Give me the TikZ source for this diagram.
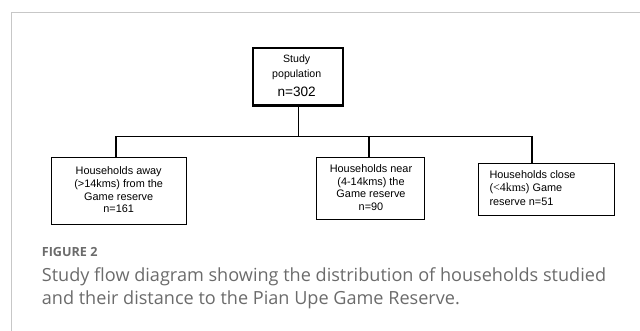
\documentclass[tikz,border=0pt]{standalone}
\usepackage{fontspec}
\setmainfont{Liberation Sans}
\newfontfamily\capfont{Open Sans}
\newfontfamily\serifpart{Liberation Serif}
\begin{document}
\begin{tikzpicture}[x=1pt,y=-1pt,
  box/.style={draw=black, line width=1pt, inner sep=0pt, anchor=north west},
  boxtext/.style={inner sep=0pt, font=\fontsize{10.9}{12.6}\selectfont},
  topbox/.style={draw=black, line width=2.5pt, inner sep=0pt, anchor=north west},
  conn/.style={draw=black, line width=1.6pt},
  frameline/.style={draw=black!22, line width=1pt},
  captext/.style={text=black!58, anchor=base west, inner sep=0pt}]
\useasboundingbox (0,0) rectangle (640,331);
\draw[frameline] (640,12.7) -- (11.7,12.7) -- (11.7,331);
% top box
\node[topbox, minimum width=90pt, minimum height=57.6pt] (top) at (251.7,46.7) {};
\node[inner sep=0pt, font=\fontsize{10.6}{12}\selectfont] (t1) at (296.7,60) {Study};
\node[inner sep=0pt, font=\fontsize{10.6}{12}\selectfont] (t2) at (296.7,74.3) {population};
\node[inner sep=0pt, font=\fontsize{13.6}{15}\selectfont] (t3) at (296.7,91.7) {n=302};
% child boxes
\node[box, minimum width=135pt, minimum height=67.6pt] (b1) at (50.7,156.7) {};
\node[boxtext, align=center] (b1t) at ([yshift=1pt]b1.center) {Households away\\(>14kms) from the\\Game reserve\\n=161};
\node[box, minimum width=108pt, minimum height=62.3pt] (b2) at (315.7,156.7) {};
\node[boxtext, align=center] (b2t) at ([xshift=0.8pt,yshift=0.8pt]b2.center) {Households near\\(4-14kms) the\\Game reserve\\n=90};
\node[box, minimum width=136pt, minimum height=51.4pt] (b3) at (478.3,163.3) {};
\node[boxtext, align=left, anchor=west, font=\fontsize{10.9}{13.6}\selectfont] (b3t) at ([xshift=11pt,yshift=1.4pt]b3.west) {Households close\\({\serifpart\fontsize{12}{13.6}\selectfont<4kms}) Game\\reserve n=51};
% connectors
\coordinate (hl) at (115.7,136.5);
\coordinate (hr) at (532,136.5);
\coordinate (hm) at (298.3,136.5);
\coordinate (hc) at (369,136.5);
\draw[conn] (top.south -| hm) -- (hm);
\draw[conn] (hl) -- (hr);
\draw[conn] (hl) -- (hl |- b1.north);
\draw[conn] (hc) -- (hc |- b2.north);
\draw[conn] (hr) -- (hr |- b3.north);
% caption
\node[captext, font=\capfont\bfseries\fontsize{12.6}{14}\selectfont] (fig) at (41.7,257) {FIGURE 2};
\node[captext, font=\capfont\fontsize{18.1}{23}\selectfont] (cap1) at (41.7,281.7) {Study flow diagram showing the distribution of households studied};
\node[captext, font=\capfont\fontsize{18.1}{23}\selectfont] (cap2) at (41.7,305) {and their distance to the Pian Upe Game Reserve.};
\end{tikzpicture}
\end{document}
